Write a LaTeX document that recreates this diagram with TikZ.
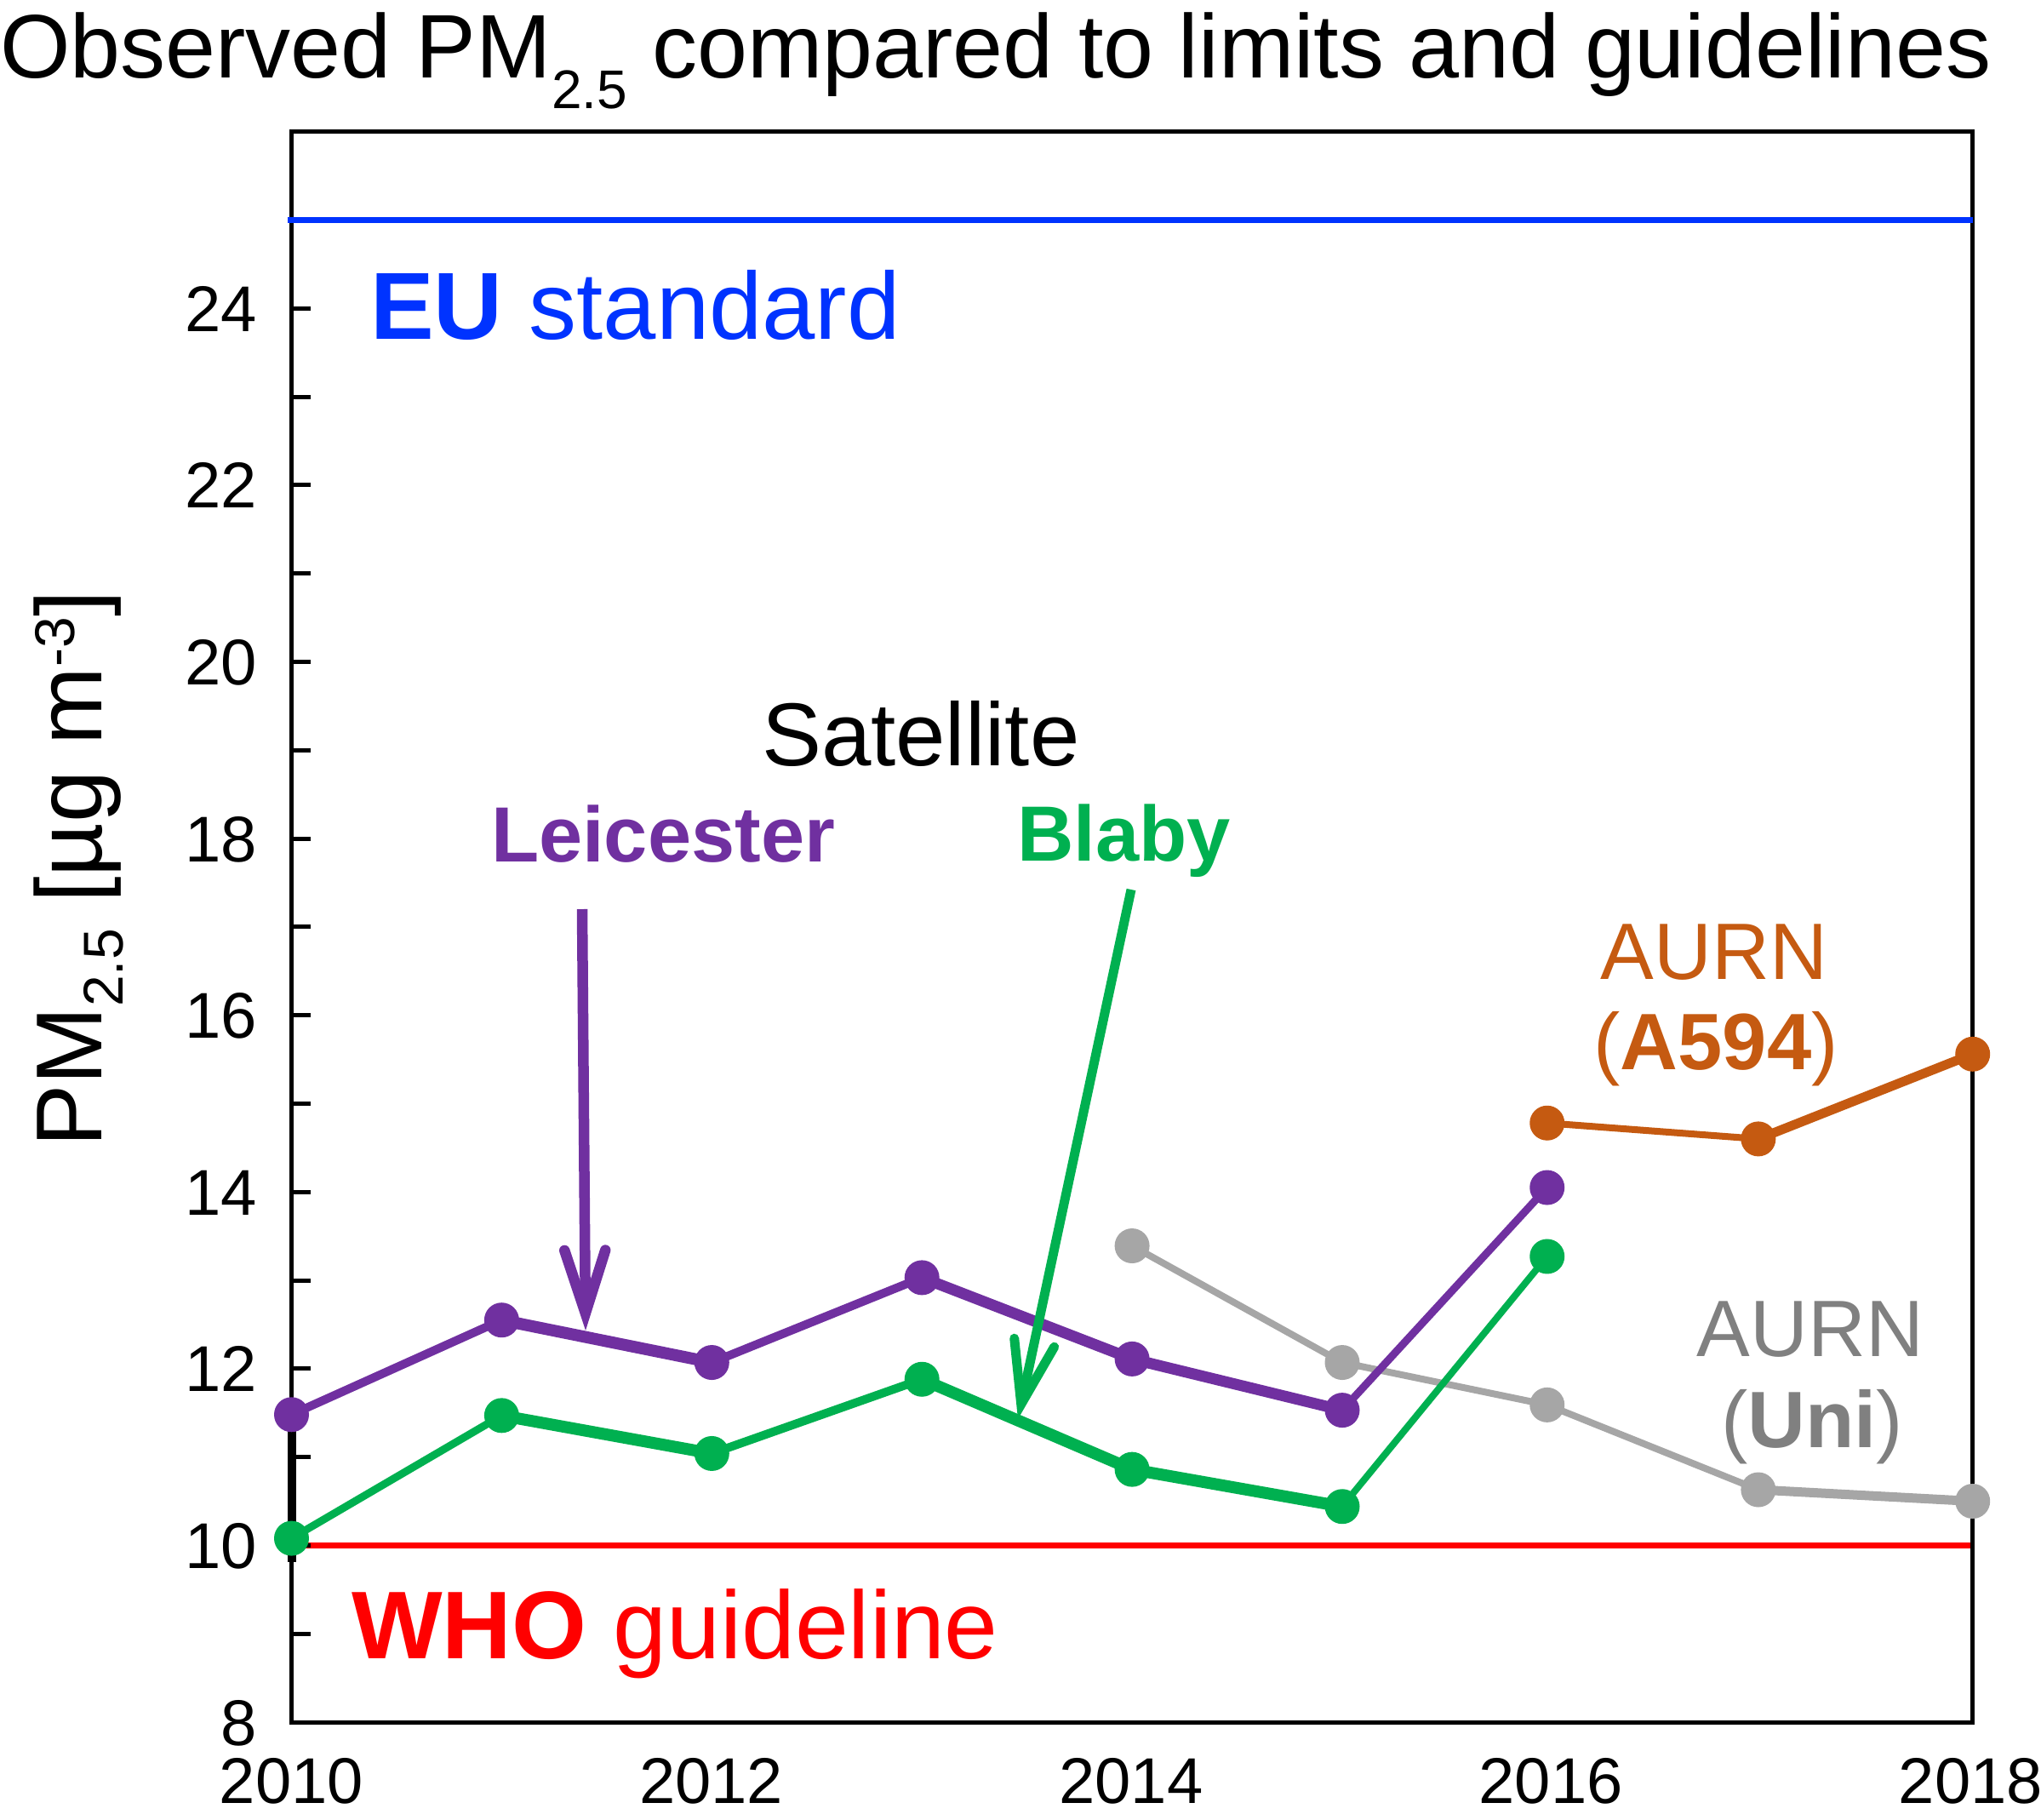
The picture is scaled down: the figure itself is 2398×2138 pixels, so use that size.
\documentclass[tikz,border=0pt]{standalone}
\usepackage{fontspec}
\setmainfont{Liberation Sans}
\usetikzlibrary{arrows.meta}
\definecolor{eublue}{HTML}{0033FF}
\definecolor{whored}{HTML}{FF0000}
\definecolor{lpurple}{HTML}{7030A0}
\definecolor{bgreen}{HTML}{00B050}
\definecolor{aorange}{HTML}{C55A11}
\definecolor{agrayline}{HTML}{A6A6A6}
\definecolor{agraytext}{HTML}{808080}
\newcommand\myfs[1]{\fontsize{#1}{#1}\selectfont}
\begin{document}
\begin{tikzpicture}[x=1pt,y=-1pt,
  every node/.style={inner sep=0pt, outer sep=0pt},
  dot/.style={circle, minimum size=41pt, inner sep=0pt},
  pdot/.style={dot, fill=lpurple},
  gdot/.style={dot, fill=bgreen},
  udot/.style={dot, fill=agrayline},
  odot/.style={dot, fill=aorange},
  axisline/.style={line width=5pt, black},
  barb/.style={-{Straight Barb[length=74pt,width=48pt,line join=miter,line cap=round]}}]
\useasboundingbox (0,0) rectangle (2398,2138);

% title
\node[anchor=base west] (title) at (0,92) {\myfs{106}Observed PM\raisebox{-36pt}{\myfs{64}2.5} compared to limits and guidelines};

% y-axis label
\node[rotate=90, anchor=base] (ylab) at (119,1021) {\myfs{110}PM\raisebox{-25pt}{\myfs{66}2.5} [µg m\raisebox{32pt}{\myfs{66}-3}]};

% WHO line
\draw[whored, line width=7.5pt] (342.5,1815.4) -- (2317.5,1815.4);

% frame and ticks
\draw[axisline] (342.5,154.6) rectangle (2317.5,2023);
\foreach \v in {9,...,25} \draw[axisline] (342.5,{2023-(\v-8)*103.8}) -- ++(22,0);
\draw[line width=10pt] (342.5,1660) -- (342.5,1835);

% EU line
\draw[eublue, line width=7pt] (338,258.4) -- (2317.5,258.4);

% tick labels
\foreach \v in {8,10,...,24} \node[anchor=base east] (yl\v) at (302,{2023-(\v-8)*103.8+27}) {\myfs{76}\v};
\foreach \yr in {2010,2012,...,2018} \node[anchor=base] (xl\yr) at ({342.5+(\yr-2010)*246.6},2118) {\myfs{76}\yr};

% data
\begin{scope}[shift={(342.5,2023)}, x=246.9pt, y=103.8pt]
  % AURN Uni (gray)
  \coordinate (u4) at (4,5.39); \coordinate (u5) at (5,4.07); \coordinate (u6) at (5.975,3.59);
  \coordinate (u7) at (6.98,2.63); \coordinate (u8) at (8,2.5);
  \draw[agrayline, line width=8pt] (u4) -- (u5) -- (u6) -- (u7);
  \draw[agrayline, line width=11pt] (u7) -- (u8);
  % AURN A594 (orange)
  \coordinate (o6) at (5.975,6.78); \coordinate (o7) at (6.98,6.6); \coordinate (o8) at (8,7.56);
  \draw[aorange, line width=8pt] (o6) -- (o7);
  \draw[aorange, line width=11pt] (o7) -- (o8);
  % Leicester (purple)
  \coordinate (p0) at (0,3.48); \coordinate (p1) at (1,4.55); \coordinate (p2) at (2,4.07);
  \coordinate (p3) at (3,5.03); \coordinate (p4) at (4,4.11); \coordinate (p5) at (5,3.53);
  \coordinate (p6) at (5.975,6.05);
  \draw[lpurple, line width=10pt] (p0) -- (p1);
  \draw[lpurple, line width=14pt] (p1) -- (p2);
  \draw[lpurple, line width=10pt] (p2) -- (p3);
  \draw[lpurple, line width=13pt] (p3) -- (p4) -- (p5);
  \draw[lpurple, line width=9pt] (p5) -- (p6);
  % Blaby (green)
  \coordinate (g0) at (0,2.08); \coordinate (g1) at (1,3.47); \coordinate (g2) at (2,3.04);
  \coordinate (g3) at (3,3.88); \coordinate (g4) at (4,2.86); \coordinate (g5) at (5,2.44);
  \coordinate (g6) at (5.975,5.27);
  \draw[bgreen, line width=9pt] (g0) -- (g1);
  \draw[bgreen, line width=14pt] (g1) -- (g2);
  \draw[bgreen, line width=10pt] (g2) -- (g3);
  \draw[bgreen, line width=14pt] (g3) -- (g4) -- (g5);
  \draw[bgreen, line width=8pt] (g5) -- (g6);
  % markers
  \foreach \i in {4,...,8} \node[udot] (ud\i) at (u\i) {};
  \foreach \i in {6,7,8} \node[odot] (od\i) at (o\i) {};
  \foreach \i in {0,...,6} \node[pdot] (pd\i) at (p\i) {};
  \foreach \i in {0,...,6} \node[gdot] (gd\i) at (g\i) {};
\end{scope}

% arrows
\coordinate (la0) at (684,1068); \coordinate (la1) at (688,1563);
\draw[lpurple, line width=12.5pt, barb] (la0) -- (la1);
\coordinate (ba0) at (1329,1045); \coordinate (ba1) at (1196,1667);
\draw[bgreen, line width=11pt, barb] (ba0) -- (ba1);

% labels
\node[anchor=base west, text=eublue] (eu) at (435,398) {\myfs{112}\textbf{EU} standard};
\node[anchor=base west, text=whored] (who) at (413,1948) {\myfs{113}\textbf{WHO} guideline};
\node[anchor=base west] (sat) at (895,899) {\myfs{105}Satellite};
\node[anchor=base west, text=lpurple] (leic) at (577,1012) {\myfs{92}\textbf{Leicester}};
\node[anchor=base west, text=bgreen] (blaby) at (1195,1011) {\myfs{92}\textbf{Blaby}};
\node[anchor=base, text=aorange] (a594a) at (2014,1150) {\myfs{94}AURN};
\node[anchor=base, text=aorange] (a594b) at (2016,1256) {\myfs{94}(\textbf{A594})};
\node[anchor=base, text=agraytext] (unia) at (2127,1593) {\myfs{94}AURN};
\node[anchor=base, text=agraytext] (unib) at (2129,1700) {\myfs{94}(\textbf{Uni})};
\end{tikzpicture}
\end{document}
